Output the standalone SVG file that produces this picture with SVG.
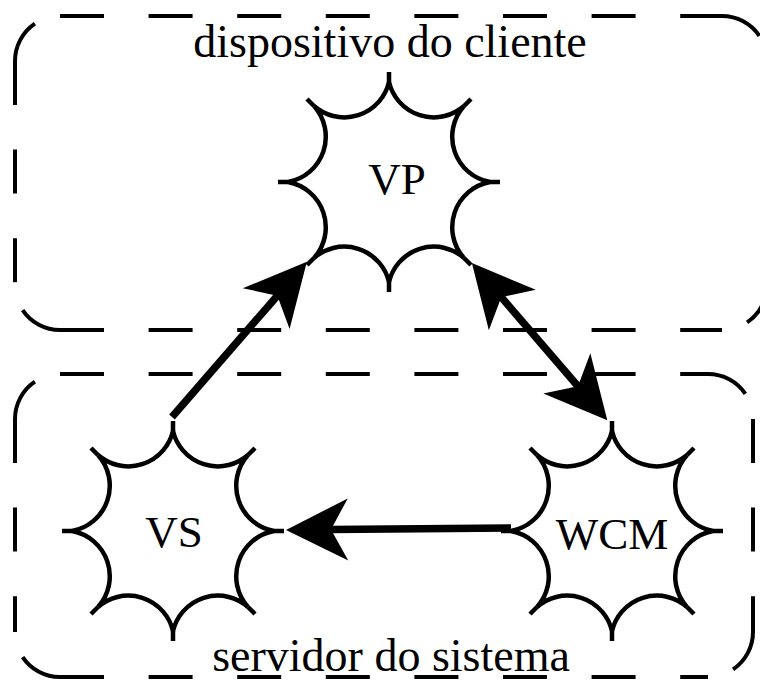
<svg xmlns="http://www.w3.org/2000/svg" xmlns:xlink="http://www.w3.org/1999/xlink" width="760" height="680" viewBox="0 0 760 680">
<style>
.box{fill:none;stroke:#000;stroke-width:4;stroke-dasharray:44 44.6}
.lbl{font-family:"Liberation Serif","Times New Roman","DejaVu Serif",serif;fill:#000;text-anchor:middle}
.node{font-size:45px}
.area{font-size:46px}
.conn{fill:none;stroke:#000;stroke-width:7.5}
</style>
<defs>
<g id="starshape" fill="#fff" stroke="#000" stroke-width="4.5" stroke-linejoin="miter" stroke-miterlimit="4">
<path d="M0,-100 A46,46 0 0 0 75,-76 A46,46 0 0 0 101,0 A46,46 0 0 0 75,76 A46,46 0 0 0 0,100 A46,46 0 0 0 -75,76 A46,46 0 0 0 -101,0 A46,46 0 0 0 -75,-76 A46,46 0 0 0 0,-100 Z"/>
<path fill="none" d="M0,-110 V-100 M82,-83 L75,-76 M111,0 H101 M82,83 L75,76 M0,110 V100 M-82,83 L-75,76 M-111,0 H-101 M-82,-83 L-75,-76"/>
</g>
<marker id="head" markerUnits="userSpaceOnUse" viewBox="-65 -35 70 70" markerWidth="70" markerHeight="70" refX="-44" refY="0" orient="auto-start-reverse" overflow="visible">
<path d="M0,0 L-62,-31 L-45,0 L-62,31 Z" fill="#000"/>
</marker>
</defs>
<rect width="760" height="680" fill="#fff"/>
<g id="client-area">
<path class="box" d="M15,61 A45,45 0 0 1 60,16"/>
<path class="box" d="M60,16 H722"/>
<path class="box" d="M722,16 A45,45 0 0 1 767,61"/>
<path class="box" d="M767,61 V285"/>
<path class="box" d="M767,285 A45,45 0 0 1 722,330"/>
<path class="box" d="M60,330 H722"/>
<path class="box" d="M60,330 A45,45 0 0 1 15,285"/>
<path class="box" d="M15,61 V285"/>
<text class="lbl area" x="390" y="57">dispositivo do cliente</text>
</g>
<g id="server-area">
<path class="box" d="M15,419 A45,45 0 0 1 60,374"/>
<path class="box" d="M60,374 H708"/>
<path class="box" d="M708,374 A45,45 0 0 1 753,419"/>
<path class="box" d="M753,419 V632"/>
<path class="box" d="M753,632 A45,45 0 0 1 708,677"/>
<path class="box" d="M60,677 H708"/>
<path class="box" d="M60,677 A45,45 0 0 1 15,632"/>
<path class="box" d="M15,419 V632"/>
<text class="lbl area" x="391" y="671">servidor do sistema</text>
</g>
<g id="VP">
<use xlink:href="#starshape" x="389" y="182"/>
<text class="lbl node" x="397" y="194">VP</text>
</g>
<g id="VS">
<use xlink:href="#starshape" x="173" y="531"/>
<text class="lbl node" x="174" y="547">VS</text>
</g>
<g id="WCM">
<use xlink:href="#starshape" x="612" y="531"/>
<text class="lbl node" x="612" y="549">WCM</text>
</g>
<g id="connectors">
<path class="conn" d="M172,417 L278,295" marker-end="url(#head)"/>
<path class="conn" d="M511,528 L330,529.6" marker-end="url(#head)"/>
<path class="conn" d="M500.6,296.4 L578.6,387" marker-start="url(#head)" marker-end="url(#head)"/>
</g>
</svg>
